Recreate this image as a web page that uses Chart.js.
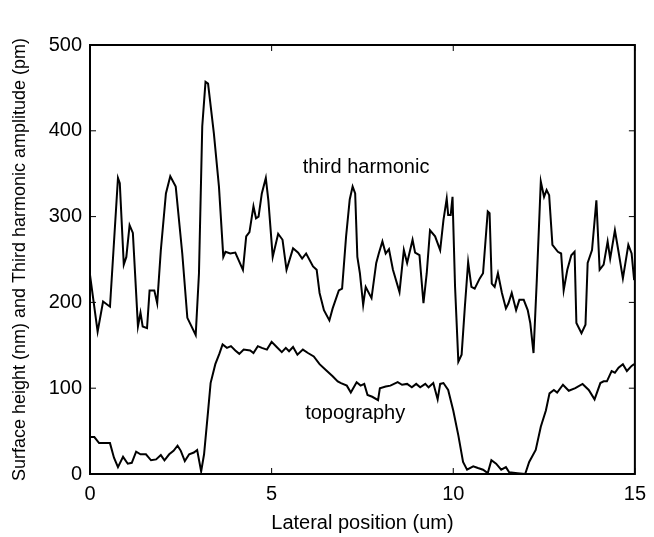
<!DOCTYPE html>
<html>
<head>
<meta charset="utf-8">
<script src="https://cdn.jsdelivr.net/npm/chart.js@4.4.0/dist/chart.umd.min.js"></script>
<style>
  html, body { margin: 0; padding: 0; background: #fff; }
  #wrap { width: 654px; height: 537px; }
</style>
</head>
<body>
<div id="wrap"><canvas id="chart"></canvas></div>
<script>
// third harmonic amplitude (pm)
const harmX = [0, 0.21, 0.36, 0.55, 0.77, 0.82, 0.93, 1.0, 1.09, 1.18, 1.32, 1.39, 1.45, 1.57, 1.64, 1.77, 1.85, 1.95, 2.09, 2.21, 2.36, 2.54, 2.68, 2.91, 3.0, 3.09, 3.18, 3.25, 3.41, 3.55, 3.67, 3.73, 3.86, 4.0, 4.21, 4.3, 4.39, 4.5, 4.57, 4.64, 4.73, 4.84, 4.91, 5.03, 5.18, 5.3, 5.41, 5.59, 5.73, 5.84, 5.95, 6.14, 6.24, 6.32, 6.44, 6.59, 6.68, 6.85, 6.94, 7.05, 7.15, 7.23, 7.3, 7.36, 7.43, 7.52, 7.59, 7.75, 7.88, 7.95, 8.05, 8.14, 8.23, 8.34, 8.52, 8.64, 8.73, 8.88, 8.95, 9.07, 9.18, 9.27, 9.36, 9.5, 9.64, 9.73, 9.82, 9.86, 9.93, 9.98, 10.05, 10.14, 10.23, 10.32, 10.41, 10.5, 10.59, 10.73, 10.82, 10.91, 10.95, 11.0, 11.06, 11.14, 11.23, 11.34, 11.45, 11.52, 11.61, 11.73, 11.82, 11.94, 12.05, 12.12, 12.21, 12.3, 12.41, 12.5, 12.57, 12.64, 12.73, 12.88, 12.97, 13.04, 13.14, 13.25, 13.34, 13.39, 13.53, 13.64, 13.7, 13.82, 13.94, 14.03, 14.14, 14.25, 14.32, 14.45, 14.55, 14.67, 14.82, 14.91, 14.98];
const harmY = [232, 166, 201, 195, 345, 339, 244, 253, 290, 281, 172, 188, 172, 170, 214, 214, 199, 261, 327, 347, 335, 257, 182, 162, 234, 405, 457, 455, 397, 335, 253, 259, 257, 258, 238, 277, 282, 312, 298, 300, 327, 345, 319, 253, 280, 273, 238, 263, 258, 251, 257, 242, 238, 211, 191, 179, 193, 214, 216, 277, 320, 335, 327, 253, 234, 197, 218, 205, 246, 257, 271, 257, 262, 238, 212, 261, 246, 273, 258, 255, 199, 234, 284, 277, 261, 296, 321, 302, 302, 323, 218, 131, 139, 195, 247, 218, 216, 228, 234, 284, 306, 304, 222, 218, 234, 211, 193, 199, 211, 191, 203, 203, 191, 176, 141, 226, 341, 323, 331, 325, 267, 259, 257, 214, 238, 255, 259, 176, 164, 174, 246, 261, 319, 238, 244, 271, 251, 284, 259, 228, 267, 257, 226];

// surface height (nm)
const topoX = [0, 0.12, 0.25, 0.41, 0.55, 0.66, 0.77, 0.91, 1.04, 1.15, 1.27, 1.39, 1.54, 1.68, 1.82, 1.95, 2.05, 2.18, 2.3, 2.41, 2.5, 2.61, 2.73, 2.86, 2.95, 3.06, 3.14, 3.25, 3.32, 3.45, 3.56, 3.65, 3.77, 3.88, 4.0, 4.11, 4.23, 4.41, 4.5, 4.62, 4.73, 4.87, 5.0, 5.14, 5.28, 5.39, 5.48, 5.59, 5.71, 5.86, 6.0, 6.16, 6.32, 6.5, 6.68, 6.82, 6.91, 7.07, 7.18, 7.34, 7.45, 7.55, 7.64, 7.77, 7.93, 7.98, 8.14, 8.27, 8.47, 8.59, 8.73, 8.86, 8.98, 9.09, 9.23, 9.32, 9.45, 9.57, 9.64, 9.73, 9.86, 10.0, 10.14, 10.27, 10.38, 10.55, 10.68, 10.82, 10.95, 11.05, 11.18, 11.32, 11.45, 11.54, 11.77, 11.98, 12.09, 12.27, 12.41, 12.55, 12.65, 12.77, 12.86, 13.02, 13.18, 13.36, 13.56, 13.73, 13.89, 14.05, 14.14, 14.23, 14.36, 14.45, 14.55, 14.67, 14.78, 14.91, 14.98];
const topoY = [43, 43, 36, 36, 36, 19, 8, 20, 12, 13, 26, 23, 23, 16, 17, 22, 16, 23, 27, 33, 27, 15, 23, 25, 28, 3, 23, 73, 106, 128, 140, 151, 147, 149, 144, 140, 145, 144, 141, 149, 147, 145, 154, 148, 142, 147, 143, 148, 139, 145, 141, 137, 128, 121, 114, 108, 106, 103, 95, 107, 103, 105, 92, 90, 86, 100, 102, 103, 107, 104, 105, 101, 105, 101, 105, 101, 106, 87, 105, 106, 98, 74, 45, 14, 5, 9, 7, 5, 1, 16, 12, 5, 8, 2, 1, 0, 14, 28, 55, 74, 94, 98, 95, 104, 97, 100, 105, 98, 87, 106, 108, 108, 120, 118, 124, 128, 120, 126, 128];

const xTicks = [0, 5, 10, 15];
const yTicks = [0, 100, 200, 300, 400, 500];

const FONT = '"Liberation Sans", Arial, Helvetica, sans-serif';

function toPoints(xs, ys) {
  return xs.map((x, i) => ({ x: x, y: ys[i] }));
}

// frame, inward ticks and the two curve labels
const framePlugin = {
  id: 'frame',
  afterDraw(chart) {
    const ctx = chart.ctx;
    const a = chart.chartArea;
    const xs = chart.scales.x;
    const ys = chart.scales.y;
    ctx.save();
    ctx.strokeStyle = '#000';
    ctx.lineWidth = 2;
    ctx.strokeRect(a.left, a.top, a.right - a.left, a.bottom - a.top);
    ctx.lineWidth = 1;
    ctx.beginPath();
    xTicks.forEach((v) => {
      const px = xs.getPixelForValue(v);
      ctx.moveTo(px, a.bottom); ctx.lineTo(px, a.bottom - 6);
      ctx.moveTo(px, a.top); ctx.lineTo(px, a.top + 6);
    });
    yTicks.forEach((v) => {
      const py = ys.getPixelForValue(v);
      ctx.moveTo(a.left, py); ctx.lineTo(a.left + 6, py);
      ctx.moveTo(a.right, py); ctx.lineTo(a.right - 6, py);
    });
    ctx.stroke();
    ctx.fillStyle = '#000';
    ctx.font = '20px ' + FONT;
    ctx.textAlign = 'center';
    ctx.textBaseline = 'middle';
    ctx.fillText('third harmonic', xs.getPixelForValue(7.6), ys.getPixelForValue(357));
    ctx.fillText('topography', xs.getPixelForValue(7.3), ys.getPixelForValue(71));
    ctx.restore();
  },
};

new Chart(document.getElementById('chart'), {
  type: 'line',
  data: {
    datasets: [
      {
        label: 'third harmonic',
        data: toPoints(harmX, harmY),
        borderColor: '#000',
        borderWidth: 2,
        pointRadius: 0,
        tension: 0,
      },
      {
        label: 'topography',
        data: toPoints(topoX, topoY),
        borderColor: '#000',
        borderWidth: 2,
        pointRadius: 0,
        tension: 0,
      },
    ],
  },
  options: {
    responsive: true,
    maintainAspectRatio: false,
    animation: false,
    layout: { padding: { top: 45, right: 14, left: 0, bottom: 0 } },
    plugins: {
      legend: { display: false },
      tooltip: { enabled: false },
    },
    scales: {
      x: {
        type: 'linear',
        min: 0,
        max: 15,
        afterBuildTicks: (s) => { s.ticks = xTicks.map((v) => ({ value: v })); },
        afterFit: (s) => { s.height = 63; },
        grid: { display: false, drawTicks: false },
        border: { display: false },
        ticks: { color: '#000', font: { size: 20, family: FONT }, padding: 8, maxRotation: 0 },
        title: {
          display: true,
          text: 'Lateral position (um)',
          color: '#000',
          font: { size: 20, family: FONT },
          padding: { top: 0, bottom: 2 },
        },
      },
      y: {
        type: 'linear',
        min: 0,
        max: 500,
        afterBuildTicks: (s) => { s.ticks = yTicks.map((v) => ({ value: v })); },
        afterFit: (s) => { s.width = 90; },
        grid: { display: false, drawTicks: false },
        border: { display: false },
        ticks: { color: '#000', font: { size: 20, family: FONT }, padding: 8 },
        title: {
          display: true,
          text: 'Surface height (nm) and Third harmonic amplitude (pm)',
          color: '#000',
          font: { size: 18, family: FONT },
          padding: { top: 9, bottom: 0 },
        },
      },
    },
  },
  plugins: [framePlugin],
});
</script>
</body>
</html>
